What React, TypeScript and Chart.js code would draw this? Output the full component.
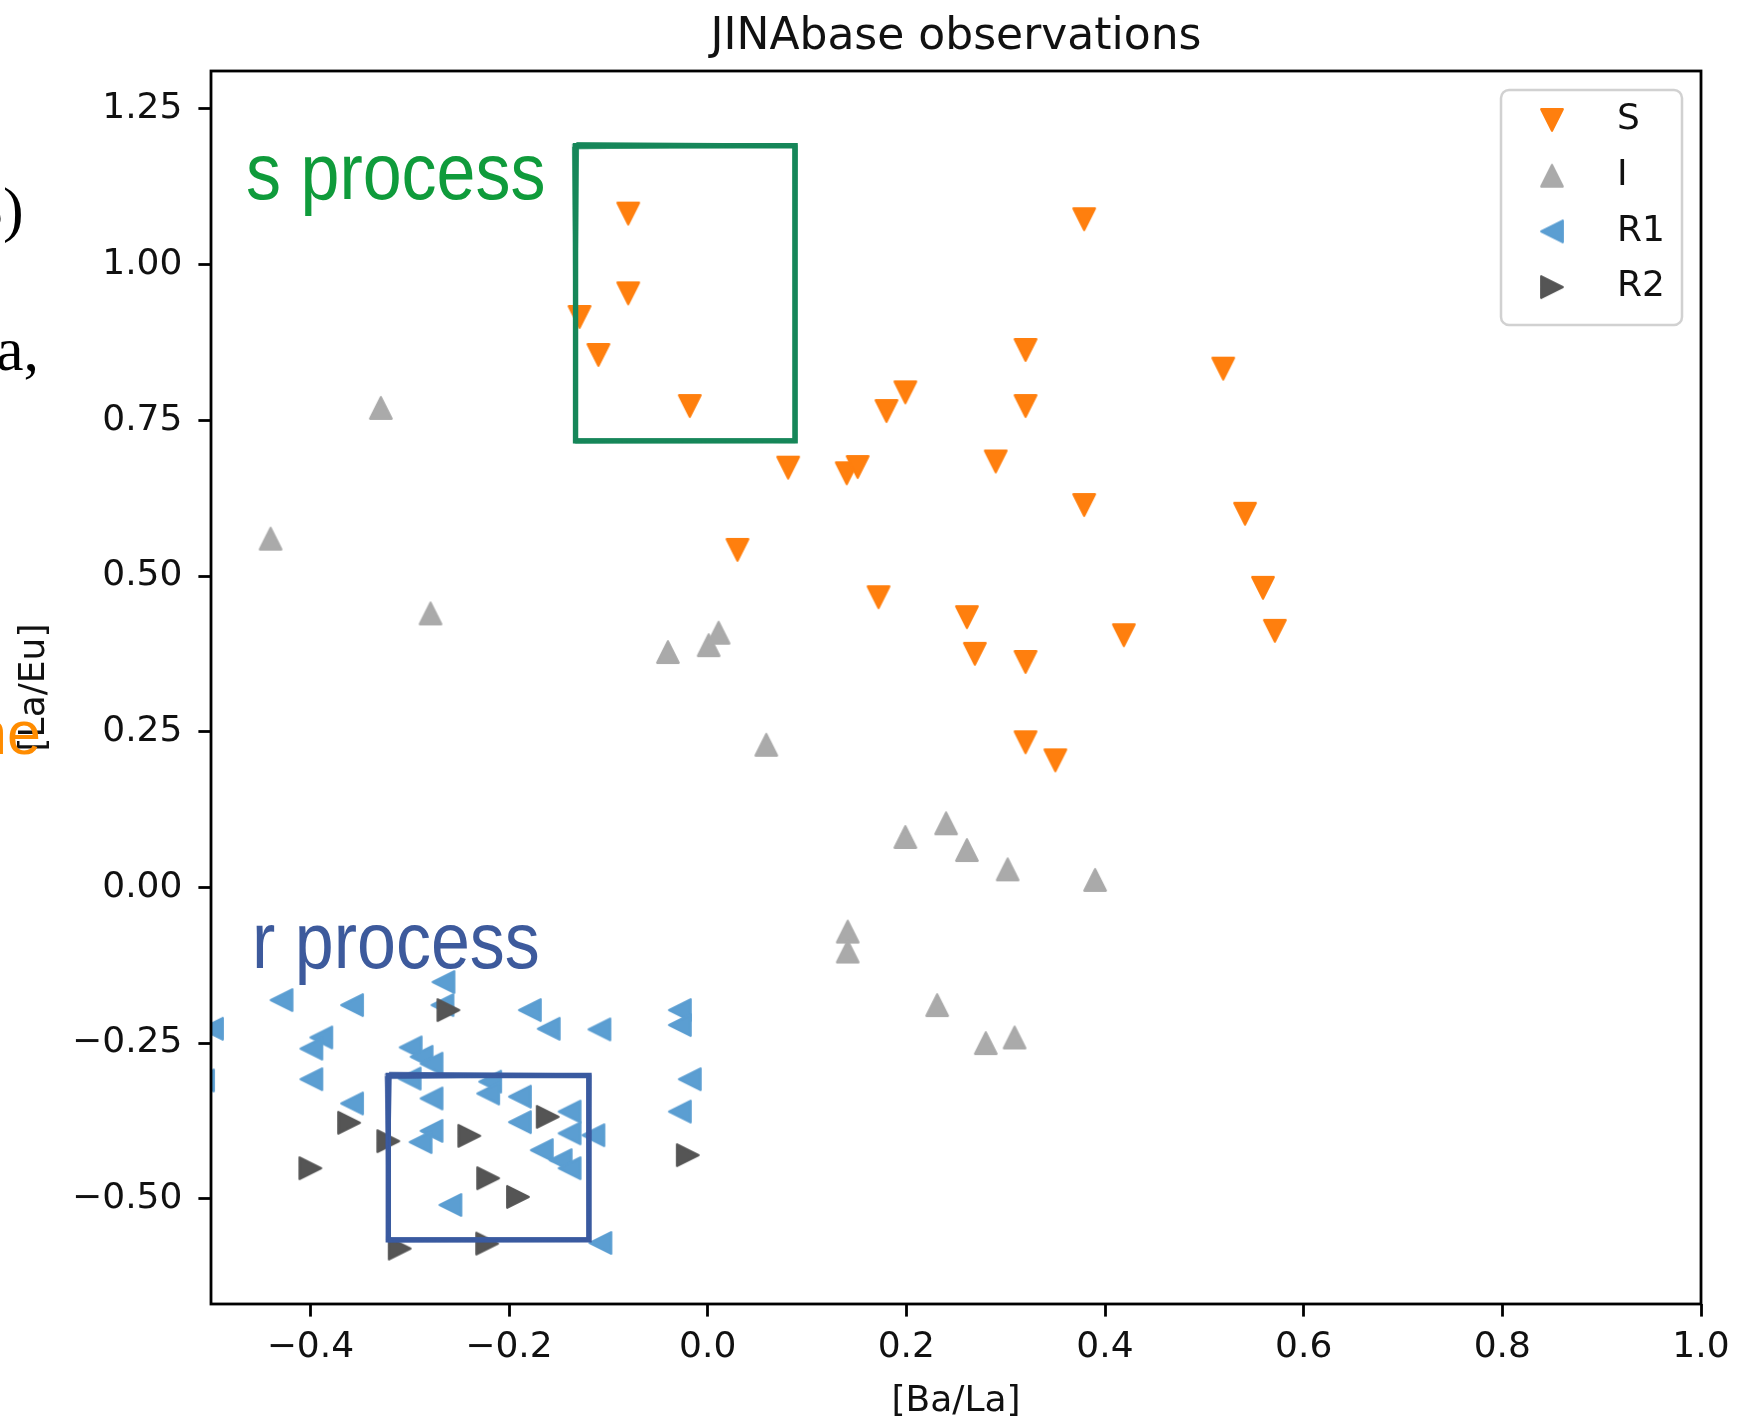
import React, { useEffect, useRef } from 'react';
import { Chart, registerables } from 'chart.js';

Chart.register(...registerables);

// ---------------- data ----------------
const seriesLabels = ['S', 'I', 'R1', 'R2'];

const xTickValues = [-0.4, -0.2, 0.0, 0.2, 0.4, 0.6, 0.8, 1.0];
const yTickValues = [-0.5, -0.25, 0.0, 0.25, 0.5, 0.75, 1.0, 1.25];

const sX = [-0.080, 0.379, -0.080, -0.129, -0.110, 0.320, 0.519, 0.199, 0.180, -0.018, 0.320, 0.081, 0.140, 0.151, 0.290, 0.379, 0.541, 0.030, 0.559, 0.172, 0.261, 0.269, 0.571, 0.419, 0.320, 0.320, 0.350];
const sY = [1.082, 1.073, 0.954, 0.916, 0.855, 0.863, 0.833, 0.795, 0.765, 0.773, 0.773, 0.674, 0.665, 0.675, 0.684, 0.614, 0.600, 0.542, 0.481, 0.466, 0.434, 0.375, 0.412, 0.405, 0.362, 0.233, 0.204];

const iX = [-0.329, -0.440, -0.279, -0.040, 0.001, 0.011, 0.059, 0.199, 0.240, 0.261, 0.302, 0.390, 0.141, 0.141, 0.231, 0.280, 0.309];
const iY = [0.770, 0.560, 0.440, 0.378, 0.389, 0.409, 0.229, 0.081, 0.103, 0.060, 0.029, 0.012, -0.071, -0.103, -0.189, -0.250, -0.241];

const r1X = [-0.429, -0.358, -0.266, -0.267, -0.499, -0.508, -0.389, -0.399, -0.399, -0.358, -0.278, -0.289, -0.299, -0.288, -0.278, -0.300, -0.278, -0.259, -0.179, -0.160, -0.109, -0.028, -0.028, -0.018, -0.028, -0.108, -0.219, -0.221, -0.189, -0.189, -0.139, -0.139, -0.115, -0.167, -0.148, -0.139];
const r1Y = [-0.181, -0.189, -0.152, -0.189, -0.227, -0.310, -0.241, -0.259, -0.308, -0.347, -0.391, -0.409, -0.257, -0.272, -0.283, -0.307, -0.339, -0.510, -0.197, -0.227, -0.228, -0.197, -0.221, -0.308, -0.360, -0.571, -0.312, -0.331, -0.336, -0.377, -0.360, -0.395, -0.398, -0.422, -0.438, -0.451];

const r2X = [-0.261, -0.361, -0.3215, -0.240, -0.310, -0.222, -0.400, -0.161, -0.221, -0.191, -0.020];
const r2Y = [-0.197, -0.378, -0.4075, -0.399, -0.580, -0.572, -0.451, -0.3685, -0.467, -0.497, -0.430];

const xLimits = [-0.5, 1.0];
const yLimits = [-0.669, 1.311];

// annotation boxes (data coordinates)
const sBox = { x0: -0.133, x1: 0.088, y0: 0.717, y1: 1.191 };
const rBox = { x0: -0.3215, x1: -0.1195, y0: -0.566, y1: -0.302 };

// ---------------- styles ----------------
const FONT = 'DejaVu Sans';
const TEXT = '#111111';
const colors = ['#ff7f0e', '#aaaaaa', '#5b9ed2', '#555555'];
const dirs = ['down', 'up', 'left', 'right'];

function makeMarker(dir: string, color: string): HTMLCanvasElement {
  const size = 30;
  const c = document.createElement('canvas');
  c.width = size;
  c.height = size;
  const ctx = c.getContext('2d')!;
  const h = 10.8;
  const cx = size / 2;
  const cy = size / 2;
  let pts: number[][] = [];
  if (dir === 'down') pts = [[0, h], [-h, -h], [h, -h]];
  if (dir === 'up') pts = [[0, -h], [-h, h], [h, h]];
  if (dir === 'left') pts = [[-h, 0], [h, -h], [h, h]];
  if (dir === 'right') pts = [[h, 0], [-h, -h], [-h, h]];
  ctx.beginPath();
  ctx.moveTo(cx + pts[0][0], cy + pts[0][1]);
  ctx.lineTo(cx + pts[1][0], cy + pts[1][1]);
  ctx.lineTo(cx + pts[2][0], cy + pts[2][1]);
  ctx.closePath();
  ctx.fillStyle = color;
  ctx.fill();
  ctx.strokeStyle = color;
  ctx.lineWidth = 2.2;
  ctx.lineJoin = 'round';
  ctx.stroke();
  return c;
}

const fmt = (v: number, d: number) => (v < -1e-9 ? '\u2212' : '') + Math.abs(v).toFixed(d);

function sketchRect(ctx: CanvasRenderingContext2D, x0: number, y0: number, x1: number, y1: number, color: string) {
  const passes = [
    { dx: 0, dy: 0, lw: 5.4, a: 1 },
    { dx: 2.2, dy: -2.4, lw: 2.8, a: 0.85 },
    { dx: -2.4, dy: 2.0, lw: 2.2, a: 0.75 },
    { dx: 1.2, dy: 3.0, lw: 1.5, a: 0.55 },
    { dx: -3.2, dy: -1.4, lw: 1.1, a: 0.45 },
  ];
  ctx.save();
  ctx.strokeStyle = color;
  ctx.lineJoin = 'miter';
  for (const p of passes) {
    ctx.globalAlpha = p.a;
    ctx.lineWidth = p.lw;
    ctx.beginPath();
    ctx.moveTo(x0 + p.dx, y0 + p.dy);
    ctx.lineTo(x1 + p.dy * 0.6, y0 - p.dx * 0.4);
    ctx.lineTo(x1 - p.dx * 0.5, y1 + p.dy * 0.5);
    ctx.lineTo(x0 + p.dy * 0.4, y1 - p.dx * 0.6);
    ctx.closePath();
    ctx.stroke();
  }
  ctx.restore();
}

export default function App() {
  const ref = useRef<HTMLCanvasElement>(null);

  useEffect(() => {
    const markers = dirs.map((d, i) => makeMarker(d, colors[i]));
    const xs = [sX, iX, r1X, r2X];
    const ys = [sY, iY, r1Y, r2Y];

    const datasets = seriesLabels.map((label, k) => ({
      label,
      data: xs[k].map((x, i) => ({ x, y: ys[k][i] })),
      pointStyle: markers[k],
      pointRadius: 12,
      pointHoverRadius: 12,
      backgroundColor: colors[k],
      borderColor: colors[k],
      clip: 0,
      order: 3 - k,
    }));

    const overlayPlugin = {
      id: 'overlay',
      afterDatasetsDraw(chart: any) {
        const { ctx, chartArea: a, scales } = chart;
        const X = (v: number) => scales.x.getPixelForValue(v);
        const Y = (v: number) => scales.y.getPixelForValue(v);

        // annotation boxes
        sketchRect(ctx, X(sBox.x0), Y(sBox.y1), X(sBox.x1), Y(sBox.y0), '#17875a');
        sketchRect(ctx, X(rBox.x0), Y(rBox.y1), X(rBox.x1), Y(rBox.y0), '#3b5ba0');

        // axes frame
        ctx.save();
        ctx.strokeStyle = '#000';
        ctx.lineWidth = 2.8;
        ctx.strokeRect(a.left, a.top, a.right - a.left, a.bottom - a.top);
        ctx.restore();

        // legend
        const lw = 181, lh = 235;
        const lx = a.right - 19 - lw;
        const ly = a.top + 19;
        ctx.save();
        ctx.beginPath();
        ctx.roundRect(lx, ly, lw, lh, 8);
        ctx.fillStyle = 'rgba(255,255,255,0.8)';
        ctx.fill();
        ctx.strokeStyle = 'rgba(204,204,204,0.9)';
        ctx.lineWidth = 2.5;
        ctx.stroke();
        ctx.font = `36px "${FONT}"`;
        ctx.fillStyle = TEXT;
        ctx.textBaseline = 'middle';
        ctx.textAlign = 'left';
        seriesLabels.forEach((lab, i) => {
          const ry = ly + 30 + i * 55.7;
          const m = markers[i];
          ctx.drawImage(m, lx + 51 - m.width / 2, ry - m.height / 2);
          ctx.fillText(lab, lx + 116, ry);
        });
        ctx.restore();
      },
    };

    const chart = new Chart(ref.current!, {
      type: 'scatter',
      data: { datasets },
      options: {
        responsive: false,
        animation: false,
        devicePixelRatio: 1,
        layout: { padding: { left: 0, right: 59, top: 0, bottom: 0 } },
        plugins: {
          legend: { display: false },
          tooltip: { enabled: false },
          title: {
            display: true,
            fullSize: false,
            text: 'JINAbase observations',
            color: TEXT,
            font: { family: FONT, size: 44, weight: 'normal', lineHeight: 1.2 },
            padding: { top: 11, bottom: 7.2 },
          },
        },
        scales: {
          x: {
            type: 'linear',
            min: xLimits[0],
            max: xLimits[1],
            afterBuildTicks: (s: any) => { s.ticks = xTickValues.map((v) => ({ value: v })); },
            afterFit: (s: any) => { s.height = 112; },
            ticks: {
              color: TEXT,
              font: { family: FONT, size: 36 },
              padding: 9,
              maxRotation: 0,
              autoSkip: false,
              callback: (v: any) => fmt(Number(v), 1),
            },
            grid: { display: true, drawOnChartArea: false, drawTicks: true, tickLength: 12.6, tickWidth: 2.8, tickColor: '#000', color: '#000' },
            border: { display: false },
            title: { display: true, text: '[Ba/La]', color: TEXT, font: { family: FONT, size: 36, lineHeight: 0.78 }, padding: { top: 0, bottom: 0 } },
          },
          y: {
            type: 'linear',
            min: yLimits[0],
            max: yLimits[1],
            afterBuildTicks: (s: any) => { s.ticks = yTickValues.map((v) => ({ value: v })); },
            afterFit: (s: any) => { s.width = 211; },
            ticks: {
              color: TEXT,
              font: { family: FONT, size: 36 },
              padding: 16,
              autoSkip: false,
              callback: (v: any) => fmt(Number(v), 2),
            },
            grid: { display: true, drawOnChartArea: false, drawTicks: true, tickLength: 12.6, tickWidth: 2.8, tickColor: '#000', color: '#000' },
            border: { display: false },
            title: { display: true, text: '[La/Eu]', color: TEXT, font: { family: FONT, size: 36 }, padding: { top: 13, bottom: 0 } },
          },
        },
      } as any,
      plugins: [overlayPlugin],
    });
    return () => chart.destroy();
  }, []);

  const abs = (o: any) => ({ position: 'absolute' as const, whiteSpace: 'nowrap' as const, lineHeight: 1, margin: 0, ...o });

  return (
    <div style={{ position: 'absolute', left: 0, top: 0, width: 1760, height: 1416, overflow: 'hidden', background: '#fff' }}>
      <canvas ref={ref} width={1760} height={1416} style={{ display: 'block', width: 1760, height: 1416 }} />
      <div style={abs({ left: -28, top: 178, fontFamily: '"Liberation Serif"', fontSize: 62, color: '#000' })}>3)</div>
      <div style={abs({ left: -4, top: 318, fontFamily: '"Liberation Serif"', fontSize: 62, color: '#000' })}>a,</div>
      <div style={abs({ left: -27, top: 703, fontFamily: '"Liberation Sans"', fontSize: 61, color: '#ff8c00' })}>ne</div>
      <div style={abs({ left: 246, top: 132, fontFamily: '"Liberation Sans"', fontSize: 70, color: '#0f9b3b', transform: 'scaleY(1.13)', transformOrigin: 'left top' })}>s process</div>
      <div style={abs({ left: 252, top: 901, fontFamily: '"Liberation Sans"', fontSize: 70, color: '#3d5a9c', transform: 'scaleY(1.13)', transformOrigin: 'left top' })}>r process</div>
    </div>
  );
}
